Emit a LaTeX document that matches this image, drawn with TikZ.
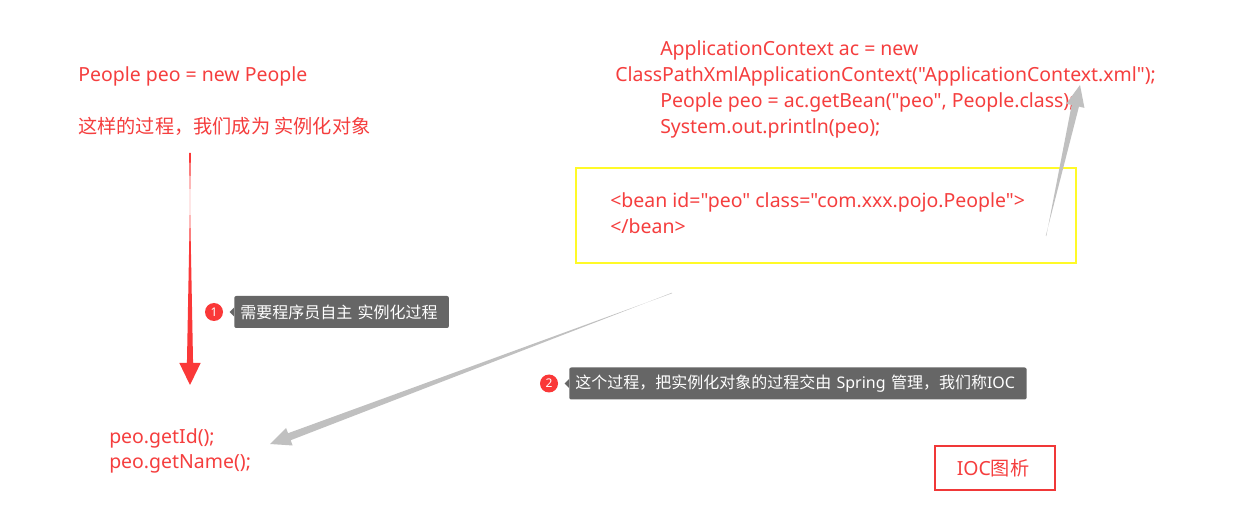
\documentclass[tikz,border=0pt]{standalone}
\usepackage{fontspec}
\setmainfont{Noto Sans}[Ligatures={}]
\newfontfamily\cjk{Noto Sans CJK SC}
\newfontfamily\lat{Noto Sans}
\usetikzlibrary{calc}
\definecolor{txtred}{RGB}{245,62,62}
\definecolor{arrgrey}{RGB}{192,192,192}
\definecolor{tipgrey}{RGB}{102,102,102}
\definecolor{beanyellow}{RGB}{255,250,40}
\definecolor{boxred}{RGB}{240,56,56}
\definecolor{arrred}{RGB}{250,56,56}
\newcommand\wedgearrow[7]{% start, tip, colour, headlen, headhalf, shafthalf, starthalf
  \path ($(#2)!#4!(#1)$) coordinate (hb);
  \fill[#3] ($(#1)!#7!-90:(#2)$) -- ($(hb)!#6!90:(#2)$) -- ($(hb)!#5!90:(#2)$) -- (#2)
    -- ($(hb)!#5!-90:(#2)$) -- ($(hb)!#6!-90:(#2)$) -- ($(#1)!#7!90:(#2)$) -- cycle;
}
\tikzset{
  code/.style={text=txtred, font=\lat\fontsize{14.6pt}{17pt}\selectfont, inner sep=0pt, anchor=base west},
  cjktext/.style={text=txtred, font=\cjk\fontsize{14.4pt}{17pt}\selectfont, inner sep=0pt, anchor=base west},
  tipbox/.style={fill=tipgrey, text=white, rounded corners=1.5pt, font=\cjk\fontsize{12pt}{14pt}\selectfont,
    minimum height=24pt, inner xsep=4.5pt, anchor=west},
  badge/.style={circle, fill=arrred, text=white, minimum size=13.5pt, inner sep=0pt, font=\lat\fontsize{9pt}{10pt}\selectfont},
}
\begin{document}
\begin{tikzpicture}[x=0.75pt,y=-0.75pt]
\useasboundingbox[fill=white] (0,0) rectangle (1253,516);
% left texts
\node[code] (decl) at (78,82) {People peo = new People};
\node[cjktext] (inst) at (78,134) {这样的过程，我们成为 实例化对象};
\node[code] (getid) at (109,444) {peo.getId();};
\node[code] (getname) at (109,469) {peo.getName();};
% right code
\node[code] (l1) at (660,56) {ApplicationContext ac = new};
\node[code] (l2) at (615,82) {ClassPathXmlApplicationContext("ApplicationContext.xml");};
\node[code] (l3) at (660,108) {People peo = ac.getBean("peo", People.class);};
\node[code] (l4) at (660,134) {System.out.println(peo);};
% bean box
\draw[beanyellow, line width=1.8pt] (576,168) rectangle (1076,263);
\node[code] (b1) at (610,208) {<bean id="peo" class="com.xxx.pojo.People">};
\node[code] (b2) at (610,234) {</bean>};
% IOC box
\draw[boxred, line width=2.2pt] (935,446) rectangle (1055,490);
\node[text=txtred, font=\lat\fontsize{14.6pt}{17pt}\selectfont, inner sep=0pt] (ioc) at (993,468) {IOC{\cjk\fontsize{14.4pt}{17pt}\selectfont 图析}};
% arrows
\coordinate (r1s) at (190,153);
\coordinate (r1t) at (190,385);
\wedgearrow{r1s}{r1t}{arrred}{16.5pt}{8pt}{2.3pt}{0.7pt}
\coordinate (g1s) at (672,293);
\coordinate (g1t) at (270,444);
\wedgearrow{g1s}{g1t}{arrgrey}{15.5pt}{7pt}{2.8pt}{0.2pt}
\coordinate (g2s) at (1046,236);
\coordinate (g2t) at (1080,85);
\wedgearrow{g2s}{g2t}{arrgrey}{16pt}{7pt}{2.8pt}{0.2pt}
% callouts
\node[tipbox, text width=152pt] (c1) at (234,312) {需要程序员自主 实例化过程};
\fill[tipgrey] ($(c1.west)+(0,-4.5)$) -- ($(c1.west)+(-4.5,0)$) -- ($(c1.west)+(0,4.5)$) -- cycle;
\node[badge] (n1) at (214,312) {1};
\node[tipbox, text width=334pt] (c2) at (569,383.5) {这个过程，把实例化对象的过程交由 {\lat Spring} 管理，我们称{\lat IOC}};
\fill[tipgrey] ($(c2.west)+(0,-4.5)$) -- ($(c2.west)+(-4.5,0)$) -- ($(c2.west)+(0,4.5)$) -- cycle;
\node[badge] (n2) at (549,383.5) {2};
\end{tikzpicture}
\end{document}
